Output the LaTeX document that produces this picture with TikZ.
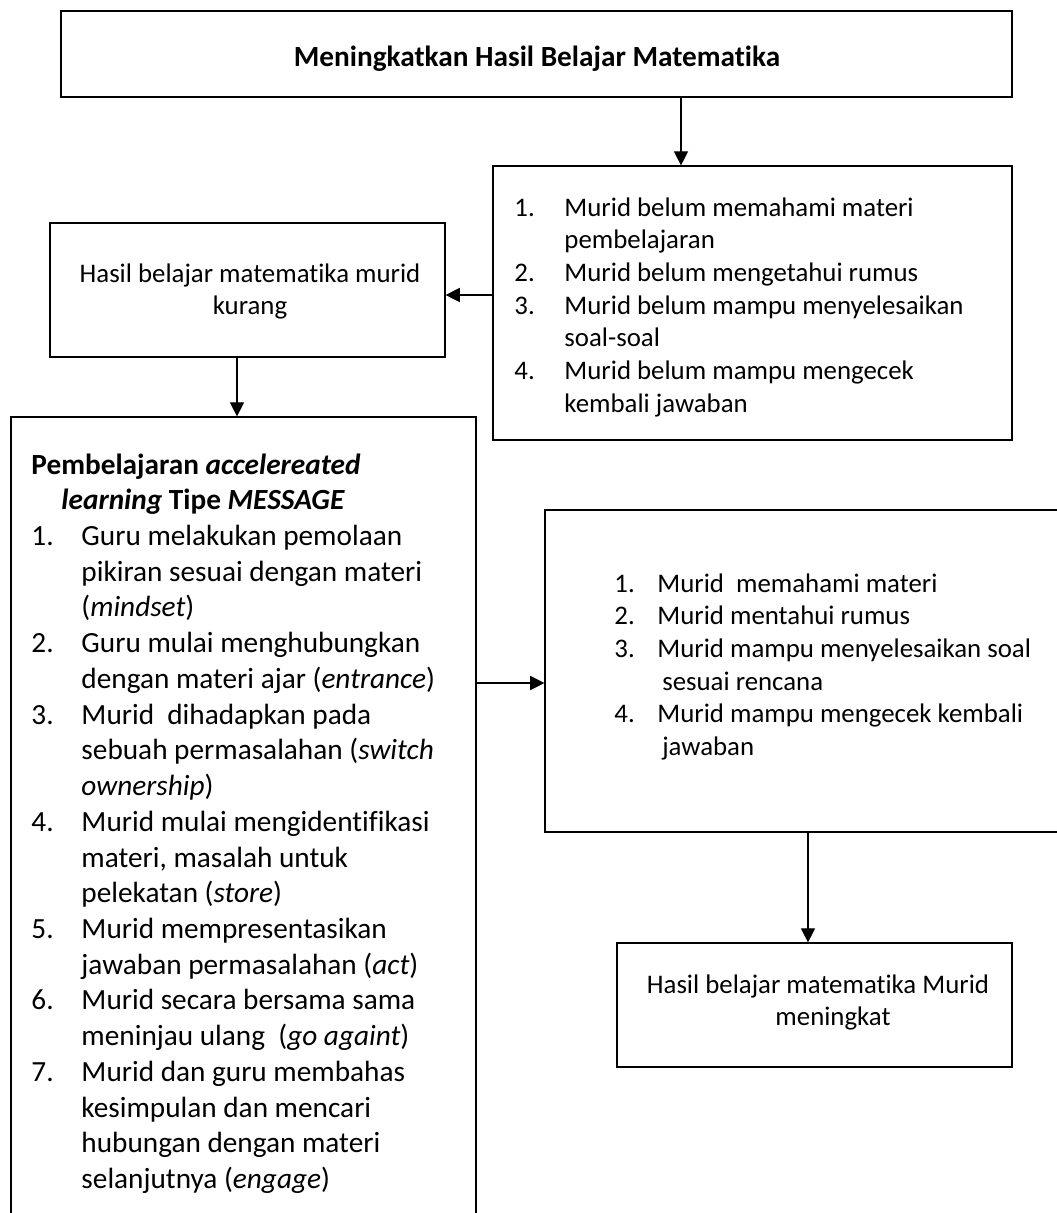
\documentclass[tikz,border=0pt]{standalone}
\usepackage{fontspec}
\setmainfont{Carlito}[Ligatures={NoCommon,NoRare,NoContextual}]
\usetikzlibrary{arrows.meta,fit}
\newcommand\fsel{\fontsize{11}{13.4}\selectfont}
\newcommand\fstw{\fontsize{12}{14.65}\selectfont}
\begin{document}
\begin{tikzpicture}[x=0.41pt,y=-0.41pt,
  box/.style={draw, line width=0.5pt, inner sep=0pt},
  txt/.style={inner sep=0pt, anchor=base west},
  ctxt/.style={inner sep=0pt, anchor=base},
  arr/.style={-{Triangle[length=5.8pt,width=5.8pt]}, line width=0.5pt}]
\useasboundingbox (0,0) rectangle (1057,1213);
\clip (0,0) rectangle (1057,1213);
\fill[white] (0,0) rectangle (1057,1213);

% box corners
\coordinate (ta) at (61,11);   \coordinate (tb) at (1012,97);
\coordinate (r1a) at (493,166); \coordinate (r1b) at (1012,440);
\coordinate (la) at (50,223);  \coordinate (lb2) at (445,357);
\coordinate (ba) at (11,417);  \coordinate (bb) at (476,1240);
\coordinate (r2a) at (545,510); \coordinate (r2b) at (1080,832);
\coordinate (sa) at (617,943); \coordinate (sb) at (1012,1067);

\node[box, fit=(ta)(tb)] (top) {};
\node[box, fit=(r1a)(r1b)] (rb1) {};
\node[box, fit=(la)(lb2)] (lb) {};
\node[box, fit=(ba)(bb)] (big) {};
\node[box, fit=(r2a)(r2b)] (rb2) {};
\node[box, fit=(sa)(sb)] (res) {};

% texts
\node[ctxt, font=\fstw\bfseries] (title) at (537,66) {Meningkatkan Hasil Belajar Matematika};

\node[txt, font=\fsel] (rb1t) at (514,216) {\begin{tabular}[t]{@{}p{20.5pt}@{}l@{}}
1. & Murid belum memahami materi\\
   & pembelajaran\\
2. & Murid belum mengetahui rumus\\
3. & Murid belum mampu menyelesaikan\\
   & soal-soal\\
4. & Murid belum mampu mengecek\\
   & kembali jawaban
\end{tabular}};

\node[ctxt, font=\fsel] (lbt) at (250,282) {\begin{tabular}[t]{@{}c@{}}
Hasil belajar matematika murid\\
kurang
\end{tabular}};

\node[txt, font=\fstw] (bigt) at (31,474) {\begin{tabular}[t]{@{}p{20.5pt}@{}l@{}}
\multicolumn{2}{@{}l@{}}{\textbf{Pembelajaran \textit{accelereated}}}\\
\multicolumn{2}{@{}l@{}}{\hspace{12.3pt}\textbf{\textit{learning} Tipe \textit{MESSAGE}}}\\
1. & Guru melakukan pemolaan\\
   & pikiran sesuai dengan materi\\
   & (\textit{mindset})\\
2. & Guru mulai menghubungkan\\
   & dengan materi ajar (\textit{entrance})\\
3. & Murid\ \ dihadapkan pada\\
   & sebuah permasalahan (\textit{switch}\\
   & \textit{ownership})\\
4. & Murid mulai mengidentifikasi\\
   & materi, masalah untuk\\
   & pelekatan (\textit{store})\\
5. & Murid mempresentasikan\\
   & jawaban permasalahan (\textit{act})\\
6. & Murid secara bersama sama\\
   & meninjau ulang\ \ (\textit{go againt})\\
7. & Murid dan guru membahas\\
   & kesimpulan dan mencari\\
   & hubungan dengan materi\\
   & selanjutnya (\textit{engage})
\end{tabular}};

\node[txt, font=\fsel] (rb2t) at (614,592) {\begin{tabular}[t]{@{}p{17.6pt}@{}l@{}}
1. & Murid\ \ memahami materi\\
2. & Murid mentahui rumus\\
3. & Murid mampu menyelesaikan soal\\
   & \hspace{2pt}sesuai rencana\\
4. & Murid mampu mengecek kembali\\
   & \hspace{2pt}jawaban
\end{tabular}};

\node[ctxt, font=\fsel] (rest) at (818,993) {\begin{tabular}[t]{@{}c@{}}
Hasil belajar matematika Murid\\
\hspace{12.3pt}meningkat
\end{tabular}};

% connectors
\coordinate (x1) at (681,0);
\coordinate (y2) at (0,295);
\coordinate (x3) at (237,0);
\coordinate (y4) at (0,683);
\coordinate (x5) at (808,0);
\draw[arr] (x1 |- top.south) -- (x1 |- rb1.north);
\draw[arr] (rb1.west |- y2) -- (lb.east |- y2);
\draw[arr] (x3 |- lb.south) -- (x3 |- big.north);
\draw[arr] (big.east |- y4) -- (rb2.west |- y4);
\draw[arr] (x5 |- rb2.south) -- (x5 |- res.north);
\end{tikzpicture}
\end{document}
